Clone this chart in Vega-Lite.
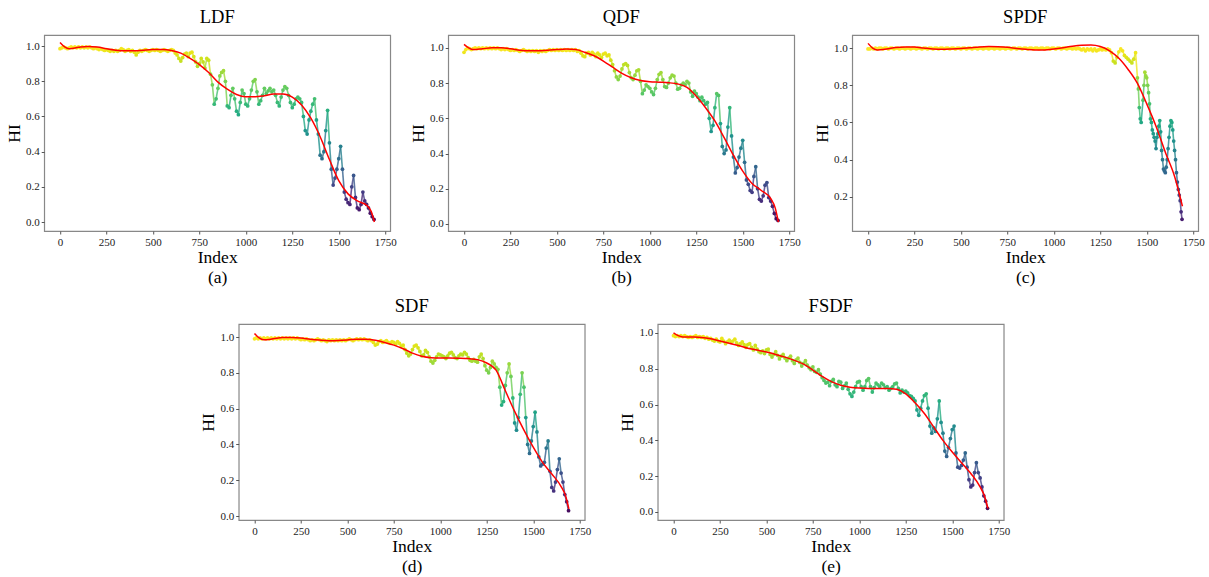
{
"$schema": "https://vega.github.io/schema/vega-lite/v6.json",
"padding": {"left": 4, "top": 6, "right": 2, "bottom": 0},
"config": {
 "font": "Liberation Serif",
 "view": {"stroke": "#888888", "strokeWidth": 1.2},
 "axis": {"labelFont": "Liberation Serif", "labelFontSize": 11, "labelColor": "#222222", "titleFont": "Liberation Serif", "titleFontSize": 17.5, "titleFontWeight": "normal", "titleColor": "#000000", "grid": false, "domain": false, "tickColor": "#555555", "tickSize": 3, "labelPadding": 2, "labelOverlap": false, "labelFlush": false},
 "axisY": {"titlePadding": 2},
 "axisX": {"titlePadding": 1, "titleLineHeight": 20},
 "title": {"font": "Liberation Serif", "fontSize": 18.5, "fontWeight": "normal", "offset": 9, "color": "#000000"}
},
"datasets": {
 "ldf": [{"i":0,"h":0.985},{"i":10,"h":0.99},{"i":20,"h":0.995},{"i":30,"h":0.99},{"i":40,"h":0.985},{"i":50,"h":0.99},{"i":60,"h":0.995},{"i":70,"h":0.99},{"i":80,"h":0.995},{"i":90,"h":0.99},{"i":100,"h":0.995},{"i":110,"h":0.99},{"i":120,"h":0.995},{"i":130,"h":0.99},{"i":140,"h":0.995},{"i":150,"h":0.99},{"i":160,"h":0.995},{"i":170,"h":0.99},{"i":180,"h":0.985},{"i":190,"h":0.99},{"i":200,"h":0.985},{"i":210,"h":0.98},{"i":220,"h":0.985},{"i":230,"h":0.98},{"i":240,"h":0.975},{"i":250,"h":0.98},{"i":260,"h":0.975},{"i":270,"h":0.97},{"i":280,"h":0.975},{"i":290,"h":0.97},{"i":300,"h":0.975},{"i":310,"h":0.97},{"i":320,"h":0.975},{"i":330,"h":0.985},{"i":340,"h":0.98},{"i":350,"h":0.97},{"i":360,"h":0.975},{"i":370,"h":0.98},{"i":380,"h":0.97},{"i":390,"h":0.975},{"i":400,"h":0.965},{"i":410,"h":0.95},{"i":420,"h":0.965},{"i":430,"h":0.975},{"i":440,"h":0.97},{"i":450,"h":0.975},{"i":460,"h":0.98},{"i":470,"h":0.975},{"i":480,"h":0.97},{"i":490,"h":0.975},{"i":500,"h":0.98},{"i":510,"h":0.975},{"i":520,"h":0.98},{"i":530,"h":0.975},{"i":540,"h":0.97},{"i":550,"h":0.975},{"i":560,"h":0.98},{"i":570,"h":0.975},{"i":580,"h":0.97},{"i":590,"h":0.975},{"i":600,"h":0.98},{"i":610,"h":0.975},{"i":620,"h":0.96},{"i":630,"h":0.95},{"i":640,"h":0.93},{"i":650,"h":0.915},{"i":660,"h":0.935},{"i":670,"h":0.955},{"i":680,"h":0.96},{"i":690,"h":0.94},{"i":700,"h":0.96},{"i":710,"h":0.965},{"i":720,"h":0.94},{"i":730,"h":0.91},{"i":740,"h":0.885},{"i":750,"h":0.9},{"i":760,"h":0.93},{"i":770,"h":0.91},{"i":780,"h":0.875},{"i":790,"h":0.93},{"i":800,"h":0.92},{"i":810,"h":0.84},{"i":820,"h":0.78},{"i":830,"h":0.67},{"i":840,"h":0.7},{"i":850,"h":0.76},{"i":860,"h":0.83},{"i":870,"h":0.85},{"i":880,"h":0.86},{"i":890,"h":0.8},{"i":900,"h":0.66},{"i":910,"h":0.65},{"i":920,"h":0.72},{"i":930,"h":0.76},{"i":940,"h":0.7},{"i":950,"h":0.63},{"i":960,"h":0.61},{"i":970,"h":0.68},{"i":980,"h":0.75},{"i":990,"h":0.73},{"i":1000,"h":0.67},{"i":1010,"h":0.66},{"i":1020,"h":0.7},{"i":1030,"h":0.75},{"i":1040,"h":0.8},{"i":1050,"h":0.81},{"i":1060,"h":0.74},{"i":1070,"h":0.67},{"i":1080,"h":0.69},{"i":1090,"h":0.72},{"i":1100,"h":0.76},{"i":1110,"h":0.73},{"i":1120,"h":0.745},{"i":1130,"h":0.76},{"i":1140,"h":0.74},{"i":1150,"h":0.75},{"i":1160,"h":0.72},{"i":1170,"h":0.68},{"i":1180,"h":0.66},{"i":1190,"h":0.71},{"i":1200,"h":0.75},{"i":1210,"h":0.77},{"i":1220,"h":0.76},{"i":1230,"h":0.72},{"i":1240,"h":0.68},{"i":1250,"h":0.65},{"i":1260,"h":0.67},{"i":1270,"h":0.7},{"i":1280,"h":0.71},{"i":1290,"h":0.7},{"i":1300,"h":0.68},{"i":1310,"h":0.6},{"i":1320,"h":0.52},{"i":1330,"h":0.5},{"i":1340,"h":0.58},{"i":1350,"h":0.63},{"i":1360,"h":0.67},{"i":1370,"h":0.7},{"i":1380,"h":0.58},{"i":1390,"h":0.5},{"i":1400,"h":0.38},{"i":1410,"h":0.36},{"i":1420,"h":0.4},{"i":1430,"h":0.52},{"i":1440,"h":0.635},{"i":1450,"h":0.45},{"i":1460,"h":0.3},{"i":1470,"h":0.21},{"i":1480,"h":0.25},{"i":1490,"h":0.3},{"i":1500,"h":0.36},{"i":1510,"h":0.43},{"i":1520,"h":0.3},{"i":1530,"h":0.17},{"i":1540,"h":0.13},{"i":1550,"h":0.11},{"i":1560,"h":0.1},{"i":1570,"h":0.2},{"i":1580,"h":0.265},{"i":1590,"h":0.14},{"i":1600,"h":0.08},{"i":1610,"h":0.07},{"i":1620,"h":0.1},{"i":1630,"h":0.17},{"i":1640,"h":0.12},{"i":1650,"h":0.1},{"i":1660,"h":0.08},{"i":1670,"h":0.05},{"i":1680,"h":0.03},{"i":1690,"h":0.015}],
 "ldfFit": [{"i":0,"h":1.02},{"i":25,"h":0.995},{"i":50,"h":0.985},{"i":100,"h":0.993},{"i":150,"h":0.998},{"i":200,"h":0.995},{"i":250,"h":0.985},{"i":300,"h":0.977},{"i":350,"h":0.973},{"i":400,"h":0.973},{"i":450,"h":0.977},{"i":500,"h":0.98},{"i":550,"h":0.98},{"i":600,"h":0.975},{"i":650,"h":0.96},{"i":700,"h":0.93},{"i":750,"h":0.895},{"i":800,"h":0.85},{"i":850,"h":0.795},{"i":900,"h":0.755},{"i":950,"h":0.725},{"i":1000,"h":0.712},{"i":1050,"h":0.712},{"i":1100,"h":0.718},{"i":1150,"h":0.727},{"i":1200,"h":0.728},{"i":1250,"h":0.71},{"i":1300,"h":0.665},{"i":1350,"h":0.59},{"i":1400,"h":0.485},{"i":1450,"h":0.355},{"i":1500,"h":0.235},{"i":1550,"h":0.16},{"i":1600,"h":0.12},{"i":1650,"h":0.095},{"i":1675,"h":0.06},{"i":1692,"h":0.0}],
 "qdf": [{"i":0,"h":0.975},{"i":10,"h":0.99},{"i":20,"h":1.0},{"i":30,"h":0.995},{"i":40,"h":0.99},{"i":50,"h":0.995},{"i":60,"h":1.0},{"i":70,"h":0.995},{"i":80,"h":1.0},{"i":90,"h":0.995},{"i":100,"h":1.0},{"i":110,"h":0.995},{"i":120,"h":1.0},{"i":130,"h":0.995},{"i":140,"h":1.0},{"i":150,"h":0.995},{"i":160,"h":1.0},{"i":170,"h":0.995},{"i":180,"h":1.0},{"i":190,"h":0.995},{"i":200,"h":0.99},{"i":210,"h":0.995},{"i":220,"h":0.99},{"i":230,"h":0.995},{"i":240,"h":0.99},{"i":250,"h":0.985},{"i":260,"h":0.99},{"i":270,"h":0.985},{"i":280,"h":0.99},{"i":290,"h":0.985},{"i":300,"h":0.98},{"i":310,"h":0.985},{"i":320,"h":0.99},{"i":330,"h":0.985},{"i":340,"h":0.98},{"i":350,"h":0.985},{"i":360,"h":0.98},{"i":370,"h":0.985},{"i":380,"h":0.98},{"i":390,"h":0.985},{"i":400,"h":0.975},{"i":410,"h":0.985},{"i":420,"h":0.98},{"i":430,"h":0.985},{"i":440,"h":0.98},{"i":450,"h":0.985},{"i":460,"h":0.99},{"i":470,"h":0.985},{"i":480,"h":0.99},{"i":490,"h":0.985},{"i":500,"h":0.99},{"i":510,"h":0.985},{"i":520,"h":0.99},{"i":530,"h":0.985},{"i":540,"h":0.99},{"i":550,"h":0.985},{"i":560,"h":0.99},{"i":570,"h":0.985},{"i":580,"h":0.99},{"i":590,"h":0.985},{"i":600,"h":0.99},{"i":610,"h":0.98},{"i":620,"h":0.985},{"i":630,"h":0.97},{"i":640,"h":0.955},{"i":650,"h":0.95},{"i":660,"h":0.97},{"i":670,"h":0.975},{"i":680,"h":0.96},{"i":690,"h":0.975},{"i":700,"h":0.965},{"i":710,"h":0.95},{"i":720,"h":0.97},{"i":730,"h":0.96},{"i":740,"h":0.945},{"i":750,"h":0.965},{"i":760,"h":0.97},{"i":770,"h":0.955},{"i":780,"h":0.96},{"i":790,"h":0.93},{"i":800,"h":0.905},{"i":810,"h":0.87},{"i":820,"h":0.835},{"i":830,"h":0.82},{"i":840,"h":0.84},{"i":850,"h":0.88},{"i":860,"h":0.905},{"i":870,"h":0.91},{"i":880,"h":0.9},{"i":890,"h":0.86},{"i":900,"h":0.83},{"i":910,"h":0.82},{"i":920,"h":0.845},{"i":930,"h":0.87},{"i":940,"h":0.875},{"i":950,"h":0.81},{"i":960,"h":0.74},{"i":970,"h":0.76},{"i":980,"h":0.79},{"i":990,"h":0.78},{"i":1000,"h":0.77},{"i":1010,"h":0.75},{"i":1020,"h":0.735},{"i":1030,"h":0.77},{"i":1040,"h":0.82},{"i":1050,"h":0.85},{"i":1060,"h":0.86},{"i":1070,"h":0.82},{"i":1080,"h":0.78},{"i":1090,"h":0.775},{"i":1100,"h":0.8},{"i":1110,"h":0.83},{"i":1120,"h":0.845},{"i":1130,"h":0.84},{"i":1140,"h":0.8},{"i":1150,"h":0.765},{"i":1160,"h":0.77},{"i":1170,"h":0.79},{"i":1180,"h":0.8},{"i":1190,"h":0.79},{"i":1200,"h":0.81},{"i":1210,"h":0.8},{"i":1220,"h":0.75},{"i":1230,"h":0.725},{"i":1240,"h":0.755},{"i":1250,"h":0.74},{"i":1260,"h":0.72},{"i":1270,"h":0.7},{"i":1280,"h":0.72},{"i":1290,"h":0.7},{"i":1300,"h":0.68},{"i":1310,"h":0.69},{"i":1320,"h":0.6},{"i":1330,"h":0.525},{"i":1340,"h":0.56},{"i":1350,"h":0.66},{"i":1360,"h":0.74},{"i":1370,"h":0.73},{"i":1380,"h":0.57},{"i":1390,"h":0.44},{"i":1400,"h":0.4},{"i":1410,"h":0.42},{"i":1420,"h":0.55},{"i":1430,"h":0.66},{"i":1440,"h":0.5},{"i":1450,"h":0.38},{"i":1460,"h":0.29},{"i":1470,"h":0.32},{"i":1480,"h":0.38},{"i":1490,"h":0.43},{"i":1500,"h":0.475},{"i":1510,"h":0.35},{"i":1520,"h":0.25},{"i":1530,"h":0.225},{"i":1540,"h":0.19},{"i":1550,"h":0.18},{"i":1560,"h":0.27},{"i":1570,"h":0.325},{"i":1580,"h":0.2},{"i":1590,"h":0.14},{"i":1600,"h":0.13},{"i":1610,"h":0.16},{"i":1620,"h":0.22},{"i":1630,"h":0.235},{"i":1640,"h":0.15},{"i":1650,"h":0.13},{"i":1660,"h":0.1},{"i":1670,"h":0.06},{"i":1680,"h":0.03},{"i":1690,"h":0.02}],
 "qdfFit": [{"i":0,"h":1.02},{"i":25,"h":1.0},{"i":50,"h":0.99},{"i":100,"h":0.995},{"i":150,"h":1.0},{"i":200,"h":1.0},{"i":250,"h":0.995},{"i":300,"h":0.987},{"i":350,"h":0.983},{"i":400,"h":0.983},{"i":450,"h":0.987},{"i":500,"h":0.99},{"i":550,"h":0.993},{"i":600,"h":0.99},{"i":650,"h":0.975},{"i":700,"h":0.955},{"i":750,"h":0.925},{"i":800,"h":0.89},{"i":850,"h":0.855},{"i":900,"h":0.83},{"i":950,"h":0.815},{"i":1000,"h":0.808},{"i":1050,"h":0.805},{"i":1100,"h":0.802},{"i":1150,"h":0.795},{"i":1200,"h":0.775},{"i":1250,"h":0.725},{"i":1300,"h":0.66},{"i":1350,"h":0.585},{"i":1400,"h":0.49},{"i":1450,"h":0.39},{"i":1500,"h":0.3},{"i":1550,"h":0.23},{"i":1600,"h":0.19},{"i":1650,"h":0.145},{"i":1675,"h":0.09},{"i":1692,"h":0.01}],
 "spdf": [{"i":0,"h":0.995},{"i":10,"h":0.995},{"i":20,"h":1.0},{"i":30,"h":0.995},{"i":40,"h":1.0},{"i":50,"h":0.995},{"i":60,"h":1.0},{"i":70,"h":1.0},{"i":80,"h":0.995},{"i":90,"h":1.0},{"i":100,"h":1.0},{"i":110,"h":0.995},{"i":120,"h":1.0},{"i":130,"h":1.0},{"i":140,"h":0.995},{"i":150,"h":1.0},{"i":160,"h":1.0},{"i":170,"h":0.995},{"i":180,"h":1.0},{"i":190,"h":1.0},{"i":200,"h":0.995},{"i":210,"h":1.0},{"i":220,"h":1.0},{"i":230,"h":0.995},{"i":240,"h":1.0},{"i":250,"h":1.0},{"i":260,"h":0.995},{"i":270,"h":1.0},{"i":280,"h":1.0},{"i":290,"h":0.995},{"i":300,"h":1.0},{"i":310,"h":1.0},{"i":320,"h":0.995},{"i":330,"h":1.0},{"i":340,"h":1.0},{"i":350,"h":0.995},{"i":360,"h":1.0},{"i":370,"h":1.0},{"i":380,"h":0.995},{"i":390,"h":1.0},{"i":400,"h":1.0},{"i":410,"h":0.995},{"i":420,"h":1.0},{"i":430,"h":1.0},{"i":440,"h":0.995},{"i":450,"h":1.0},{"i":460,"h":1.0},{"i":470,"h":0.995},{"i":480,"h":1.0},{"i":490,"h":1.0},{"i":500,"h":0.995},{"i":510,"h":1.0},{"i":520,"h":1.0},{"i":530,"h":0.995},{"i":540,"h":1.0},{"i":550,"h":1.0},{"i":560,"h":0.995},{"i":570,"h":1.0},{"i":580,"h":1.0},{"i":590,"h":0.995},{"i":600,"h":1.0},{"i":610,"h":1.0},{"i":620,"h":0.995},{"i":630,"h":1.0},{"i":640,"h":1.0},{"i":650,"h":0.995},{"i":660,"h":1.0},{"i":670,"h":1.0},{"i":680,"h":0.995},{"i":690,"h":1.0},{"i":700,"h":1.0},{"i":710,"h":0.995},{"i":720,"h":1.0},{"i":730,"h":1.0},{"i":740,"h":0.995},{"i":750,"h":1.0},{"i":760,"h":1.0},{"i":770,"h":0.995},{"i":780,"h":1.0},{"i":790,"h":1.0},{"i":800,"h":0.995},{"i":810,"h":1.0},{"i":820,"h":1.0},{"i":830,"h":0.995},{"i":840,"h":1.0},{"i":850,"h":1.0},{"i":860,"h":0.995},{"i":870,"h":1.0},{"i":880,"h":1.0},{"i":890,"h":0.995},{"i":900,"h":1.0},{"i":910,"h":1.0},{"i":920,"h":0.995},{"i":930,"h":1.0},{"i":940,"h":1.0},{"i":950,"h":0.995},{"i":960,"h":1.0},{"i":970,"h":1.0},{"i":980,"h":0.995},{"i":990,"h":1.0},{"i":1000,"h":1.0},{"i":1010,"h":0.995},{"i":1020,"h":1.0},{"i":1030,"h":1.0},{"i":1040,"h":0.995},{"i":1050,"h":1.0},{"i":1060,"h":1.0},{"i":1070,"h":0.995},{"i":1080,"h":1.0},{"i":1090,"h":1.0},{"i":1100,"h":0.995},{"i":1110,"h":1.0},{"i":1120,"h":0.995},{"i":1130,"h":1.0},{"i":1140,"h":0.995},{"i":1150,"h":0.99},{"i":1160,"h":0.995},{"i":1170,"h":0.985},{"i":1180,"h":0.995},{"i":1190,"h":0.99},{"i":1200,"h":0.995},{"i":1210,"h":0.985},{"i":1220,"h":0.995},{"i":1230,"h":0.985},{"i":1240,"h":0.99},{"i":1250,"h":0.995},{"i":1260,"h":0.99},{"i":1270,"h":0.995},{"i":1280,"h":0.99},{"i":1290,"h":0.995},{"i":1300,"h":0.99},{"i":1310,"h":0.975},{"i":1320,"h":0.93},{"i":1330,"h":0.92},{"i":1340,"h":0.95},{"i":1350,"h":0.98},{"i":1360,"h":0.995},{"i":1370,"h":0.985},{"i":1380,"h":0.96},{"i":1390,"h":0.95},{"i":1400,"h":0.94},{"i":1410,"h":0.93},{"i":1420,"h":0.92},{"i":1430,"h":0.94},{"i":1440,"h":0.975},{"i":1450,"h":0.84},{"i":1455,"h":0.78},{"i":1460,"h":0.68},{"i":1465,"h":0.62},{"i":1470,"h":0.6},{"i":1480,"h":0.72},{"i":1485,"h":0.8},{"i":1490,"h":0.87},{"i":1495,"h":0.85},{"i":1500,"h":0.84},{"i":1505,"h":0.8},{"i":1510,"h":0.76},{"i":1515,"h":0.7},{"i":1520,"h":0.62},{"i":1525,"h":0.6},{"i":1530,"h":0.56},{"i":1535,"h":0.54},{"i":1540,"h":0.52},{"i":1545,"h":0.5},{"i":1550,"h":0.46},{"i":1555,"h":0.52},{"i":1560,"h":0.54},{"i":1565,"h":0.58},{"i":1570,"h":0.61},{"i":1575,"h":0.55},{"i":1580,"h":0.45},{"i":1585,"h":0.4},{"i":1590,"h":0.35},{"i":1595,"h":0.34},{"i":1600,"h":0.33},{"i":1605,"h":0.36},{"i":1610,"h":0.4},{"i":1615,"h":0.46},{"i":1620,"h":0.52},{"i":1625,"h":0.58},{"i":1630,"h":0.61},{"i":1635,"h":0.6},{"i":1640,"h":0.56},{"i":1645,"h":0.5},{"i":1650,"h":0.45},{"i":1655,"h":0.4},{"i":1660,"h":0.33},{"i":1665,"h":0.28},{"i":1670,"h":0.24},{"i":1675,"h":0.21},{"i":1680,"h":0.18},{"i":1685,"h":0.12},{"i":1690,"h":0.08}],
 "spdfFit": [{"i":0,"h":1.025},{"i":25,"h":1.0},{"i":50,"h":0.99},{"i":100,"h":0.995},{"i":150,"h":1.003},{"i":200,"h":1.006},{"i":250,"h":1.005},{"i":300,"h":1.0},{"i":350,"h":0.995},{"i":400,"h":0.993},{"i":450,"h":0.995},{"i":500,"h":0.998},{"i":550,"h":1.002},{"i":600,"h":1.006},{"i":650,"h":1.008},{"i":700,"h":1.007},{"i":750,"h":1.004},{"i":800,"h":0.998},{"i":850,"h":0.993},{"i":900,"h":0.99},{"i":950,"h":0.99},{"i":1000,"h":0.995},{"i":1050,"h":1.002},{"i":1100,"h":1.01},{"i":1150,"h":1.015},{"i":1200,"h":1.016},{"i":1250,"h":1.008},{"i":1300,"h":0.985},{"i":1350,"h":0.945},{"i":1400,"h":0.885},{"i":1450,"h":0.81},{"i":1500,"h":0.7},{"i":1550,"h":0.58},{"i":1600,"h":0.44},{"i":1650,"h":0.31},{"i":1692,"h":0.15}],
 "sdf": [{"i":0,"h":0.99},{"i":10,"h":0.995},{"i":20,"h":0.99},{"i":30,"h":0.995},{"i":40,"h":0.99},{"i":50,"h":0.995},{"i":60,"h":0.99},{"i":70,"h":0.995},{"i":80,"h":0.99},{"i":90,"h":0.995},{"i":100,"h":0.99},{"i":110,"h":0.995},{"i":120,"h":0.99},{"i":130,"h":0.995},{"i":140,"h":0.99},{"i":150,"h":0.995},{"i":160,"h":0.99},{"i":170,"h":0.995},{"i":180,"h":0.99},{"i":190,"h":0.995},{"i":200,"h":0.99},{"i":210,"h":0.995},{"i":220,"h":0.99},{"i":230,"h":0.995},{"i":240,"h":0.99},{"i":250,"h":0.985},{"i":260,"h":0.99},{"i":270,"h":0.985},{"i":280,"h":0.99},{"i":290,"h":0.985},{"i":300,"h":0.98},{"i":310,"h":0.985},{"i":320,"h":0.98},{"i":330,"h":0.985},{"i":340,"h":0.99},{"i":350,"h":0.985},{"i":360,"h":0.98},{"i":370,"h":0.985},{"i":380,"h":0.98},{"i":390,"h":0.975},{"i":400,"h":0.985},{"i":410,"h":0.98},{"i":420,"h":0.985},{"i":430,"h":0.98},{"i":440,"h":0.985},{"i":450,"h":0.98},{"i":460,"h":0.985},{"i":470,"h":0.98},{"i":480,"h":0.985},{"i":490,"h":0.98},{"i":500,"h":0.985},{"i":510,"h":0.99},{"i":520,"h":0.985},{"i":530,"h":0.98},{"i":540,"h":0.985},{"i":550,"h":0.99},{"i":560,"h":0.985},{"i":570,"h":0.99},{"i":580,"h":0.985},{"i":590,"h":0.99},{"i":600,"h":0.985},{"i":610,"h":0.98},{"i":620,"h":0.985},{"i":630,"h":0.98},{"i":640,"h":0.97},{"i":650,"h":0.955},{"i":660,"h":0.96},{"i":670,"h":0.975},{"i":680,"h":0.98},{"i":690,"h":0.97},{"i":700,"h":0.975},{"i":710,"h":0.98},{"i":720,"h":0.97},{"i":730,"h":0.965},{"i":740,"h":0.975},{"i":750,"h":0.97},{"i":760,"h":0.96},{"i":770,"h":0.975},{"i":780,"h":0.965},{"i":790,"h":0.95},{"i":800,"h":0.955},{"i":810,"h":0.93},{"i":820,"h":0.91},{"i":830,"h":0.895},{"i":840,"h":0.905},{"i":850,"h":0.93},{"i":860,"h":0.95},{"i":870,"h":0.955},{"i":880,"h":0.94},{"i":890,"h":0.92},{"i":900,"h":0.895},{"i":910,"h":0.9},{"i":920,"h":0.925},{"i":930,"h":0.915},{"i":940,"h":0.89},{"i":950,"h":0.865},{"i":960,"h":0.855},{"i":970,"h":0.87},{"i":980,"h":0.89},{"i":990,"h":0.905},{"i":1000,"h":0.9},{"i":1010,"h":0.895},{"i":1020,"h":0.89},{"i":1030,"h":0.88},{"i":1040,"h":0.895},{"i":1050,"h":0.91},{"i":1060,"h":0.915},{"i":1070,"h":0.9},{"i":1080,"h":0.885},{"i":1090,"h":0.88},{"i":1100,"h":0.895},{"i":1110,"h":0.905},{"i":1120,"h":0.9},{"i":1130,"h":0.915},{"i":1140,"h":0.905},{"i":1150,"h":0.885},{"i":1160,"h":0.87},{"i":1170,"h":0.865},{"i":1180,"h":0.875},{"i":1190,"h":0.865},{"i":1200,"h":0.86},{"i":1210,"h":0.89},{"i":1220,"h":0.905},{"i":1230,"h":0.88},{"i":1240,"h":0.84},{"i":1250,"h":0.815},{"i":1260,"h":0.8},{"i":1270,"h":0.83},{"i":1280,"h":0.865},{"i":1290,"h":0.85},{"i":1300,"h":0.83},{"i":1310,"h":0.82},{"i":1320,"h":0.72},{"i":1330,"h":0.62},{"i":1340,"h":0.64},{"i":1350,"h":0.73},{"i":1360,"h":0.8},{"i":1370,"h":0.85},{"i":1380,"h":0.78},{"i":1390,"h":0.66},{"i":1400,"h":0.52},{"i":1410,"h":0.48},{"i":1420,"h":0.55},{"i":1430,"h":0.68},{"i":1440,"h":0.8},{"i":1450,"h":0.72},{"i":1460,"h":0.55},{"i":1470,"h":0.4},{"i":1480,"h":0.35},{"i":1490,"h":0.42},{"i":1500,"h":0.5},{"i":1510,"h":0.58},{"i":1520,"h":0.47},{"i":1530,"h":0.33},{"i":1540,"h":0.28},{"i":1550,"h":0.29},{"i":1560,"h":0.3},{"i":1570,"h":0.38},{"i":1580,"h":0.42},{"i":1590,"h":0.25},{"i":1600,"h":0.16},{"i":1610,"h":0.14},{"i":1620,"h":0.19},{"i":1630,"h":0.26},{"i":1640,"h":0.32},{"i":1650,"h":0.24},{"i":1660,"h":0.19},{"i":1670,"h":0.12},{"i":1680,"h":0.08},{"i":1690,"h":0.03}],
 "sdfFit": [{"i":0,"h":1.02},{"i":25,"h":0.995},{"i":50,"h":0.985},{"i":100,"h":0.99},{"i":150,"h":0.997},{"i":200,"h":0.998},{"i":250,"h":0.995},{"i":300,"h":0.988},{"i":350,"h":0.983},{"i":400,"h":0.98},{"i":450,"h":0.981},{"i":500,"h":0.984},{"i":550,"h":0.988},{"i":600,"h":0.988},{"i":650,"h":0.982},{"i":700,"h":0.97},{"i":750,"h":0.955},{"i":800,"h":0.935},{"i":850,"h":0.91},{"i":900,"h":0.893},{"i":950,"h":0.885},{"i":1000,"h":0.883},{"i":1050,"h":0.883},{"i":1100,"h":0.882},{"i":1150,"h":0.88},{"i":1200,"h":0.874},{"i":1250,"h":0.855},{"i":1300,"h":0.815},{"i":1350,"h":0.7},{"i":1400,"h":0.585},{"i":1450,"h":0.48},{"i":1500,"h":0.385},{"i":1550,"h":0.3},{"i":1600,"h":0.235},{"i":1650,"h":0.165},{"i":1675,"h":0.11},{"i":1692,"h":0.04}],
 "fsdf": [{"i":0,"h":0.985},{"i":10,"h":0.98},{"i":20,"h":0.985},{"i":30,"h":0.98},{"i":40,"h":0.985},{"i":50,"h":0.98},{"i":60,"h":0.985},{"i":70,"h":0.98},{"i":80,"h":0.975},{"i":90,"h":0.98},{"i":100,"h":0.975},{"i":110,"h":0.98},{"i":120,"h":0.985},{"i":130,"h":0.975},{"i":140,"h":0.98},{"i":150,"h":0.975},{"i":160,"h":0.98},{"i":170,"h":0.97},{"i":180,"h":0.975},{"i":190,"h":0.965},{"i":200,"h":0.97},{"i":210,"h":0.96},{"i":220,"h":0.955},{"i":230,"h":0.965},{"i":240,"h":0.955},{"i":250,"h":0.95},{"i":260,"h":0.97},{"i":270,"h":0.955},{"i":280,"h":0.94},{"i":290,"h":0.95},{"i":300,"h":0.96},{"i":310,"h":0.95},{"i":320,"h":0.955},{"i":330,"h":0.965},{"i":340,"h":0.945},{"i":350,"h":0.93},{"i":360,"h":0.94},{"i":370,"h":0.95},{"i":380,"h":0.935},{"i":390,"h":0.92},{"i":400,"h":0.935},{"i":410,"h":0.94},{"i":420,"h":0.92},{"i":430,"h":0.905},{"i":440,"h":0.93},{"i":450,"h":0.91},{"i":460,"h":0.895},{"i":470,"h":0.89},{"i":480,"h":0.9},{"i":490,"h":0.885},{"i":500,"h":0.905},{"i":510,"h":0.91},{"i":520,"h":0.88},{"i":530,"h":0.865},{"i":540,"h":0.88},{"i":550,"h":0.895},{"i":560,"h":0.875},{"i":570,"h":0.855},{"i":580,"h":0.87},{"i":590,"h":0.88},{"i":600,"h":0.86},{"i":610,"h":0.845},{"i":620,"h":0.86},{"i":630,"h":0.87},{"i":640,"h":0.845},{"i":650,"h":0.83},{"i":660,"h":0.85},{"i":670,"h":0.86},{"i":680,"h":0.835},{"i":690,"h":0.815},{"i":700,"h":0.83},{"i":710,"h":0.845},{"i":720,"h":0.82},{"i":730,"h":0.805},{"i":740,"h":0.795},{"i":750,"h":0.81},{"i":760,"h":0.785},{"i":770,"h":0.78},{"i":780,"h":0.795},{"i":790,"h":0.77},{"i":800,"h":0.75},{"i":810,"h":0.735},{"i":820,"h":0.72},{"i":830,"h":0.725},{"i":840,"h":0.705},{"i":850,"h":0.73},{"i":860,"h":0.74},{"i":870,"h":0.71},{"i":880,"h":0.7},{"i":890,"h":0.73},{"i":900,"h":0.725},{"i":910,"h":0.69},{"i":920,"h":0.705},{"i":930,"h":0.72},{"i":940,"h":0.685},{"i":950,"h":0.66},{"i":960,"h":0.645},{"i":970,"h":0.67},{"i":980,"h":0.7},{"i":990,"h":0.725},{"i":1000,"h":0.73},{"i":1010,"h":0.7},{"i":1020,"h":0.68},{"i":1030,"h":0.7},{"i":1040,"h":0.735},{"i":1050,"h":0.745},{"i":1060,"h":0.7},{"i":1070,"h":0.67},{"i":1080,"h":0.695},{"i":1090,"h":0.72},{"i":1100,"h":0.71},{"i":1110,"h":0.7},{"i":1120,"h":0.72},{"i":1130,"h":0.71},{"i":1140,"h":0.695},{"i":1150,"h":0.7},{"i":1160,"h":0.68},{"i":1170,"h":0.69},{"i":1180,"h":0.7},{"i":1190,"h":0.715},{"i":1200,"h":0.72},{"i":1210,"h":0.69},{"i":1220,"h":0.665},{"i":1230,"h":0.68},{"i":1240,"h":0.67},{"i":1250,"h":0.675},{"i":1260,"h":0.665},{"i":1270,"h":0.65},{"i":1280,"h":0.645},{"i":1290,"h":0.635},{"i":1300,"h":0.62},{"i":1310,"h":0.57},{"i":1320,"h":0.54},{"i":1330,"h":0.58},{"i":1340,"h":0.62},{"i":1350,"h":0.65},{"i":1360,"h":0.66},{"i":1370,"h":0.58},{"i":1380,"h":0.48},{"i":1390,"h":0.44},{"i":1400,"h":0.47},{"i":1410,"h":0.45},{"i":1420,"h":0.52},{"i":1430,"h":0.62},{"i":1440,"h":0.5},{"i":1450,"h":0.44},{"i":1460,"h":0.34},{"i":1470,"h":0.31},{"i":1480,"h":0.36},{"i":1490,"h":0.41},{"i":1500,"h":0.46},{"i":1510,"h":0.48},{"i":1520,"h":0.33},{"i":1530,"h":0.25},{"i":1540,"h":0.245},{"i":1550,"h":0.26},{"i":1560,"h":0.29},{"i":1570,"h":0.33},{"i":1580,"h":0.25},{"i":1590,"h":0.18},{"i":1600,"h":0.14},{"i":1610,"h":0.15},{"i":1620,"h":0.22},{"i":1630,"h":0.275},{"i":1640,"h":0.22},{"i":1650,"h":0.19},{"i":1660,"h":0.14},{"i":1670,"h":0.09},{"i":1680,"h":0.06},{"i":1690,"h":0.02}],
 "fsdfFit": [{"i":0,"h":1.0},{"i":25,"h":0.985},{"i":50,"h":0.978},{"i":100,"h":0.977},{"i":150,"h":0.975},{"i":200,"h":0.968},{"i":250,"h":0.955},{"i":300,"h":0.942},{"i":350,"h":0.93},{"i":400,"h":0.915},{"i":450,"h":0.905},{"i":500,"h":0.893},{"i":550,"h":0.88},{"i":600,"h":0.865},{"i":650,"h":0.847},{"i":700,"h":0.826},{"i":750,"h":0.793},{"i":800,"h":0.757},{"i":850,"h":0.728},{"i":900,"h":0.708},{"i":950,"h":0.697},{"i":1000,"h":0.692},{"i":1050,"h":0.69},{"i":1100,"h":0.69},{"i":1150,"h":0.69},{"i":1200,"h":0.685},{"i":1250,"h":0.66},{"i":1300,"h":0.61},{"i":1350,"h":0.55},{"i":1400,"h":0.475},{"i":1450,"h":0.4},{"i":1500,"h":0.335},{"i":1550,"h":0.275},{"i":1600,"h":0.215},{"i":1650,"h":0.14},{"i":1675,"h":0.085},{"i":1692,"h":0.02}]
},
"center": true,
"spacing": 8,
"vconcat": [
 {"hconcat": [
  {"title": "LDF", "width": 346, "height": 196, "layer": [
   {"data": {"name": "ldf"}, "transform": [{"window": [{"op": "lead", "field": "i", "as": "ni"}, {"op": "lead", "field": "h", "as": "nh"}], "sort": [{"field": "i"}]}, {"filter": "datum.ni != null"}],
    "mark": {"type": "rule", "strokeWidth": 1.6, "opacity": 0.8},
    "encoding": {"x": {"field": "i", "type": "quantitative", "scale": {"domain": [-85, 1777], "nice": false, "zero": false}, "axis": {"values": [0,250,500,750,1000,1250,1500,1750], "tickCount": 20, "format": "d", "title": ["Index", "(a)"]}},
     "y": {"field": "h", "type": "quantitative", "scale": {"domain": [-0.051, 1.063], "nice": false, "zero": false}, "axis": {"values": [0,0.2,0.4,0.6,0.8,1], "tickCount": 20, "format": ".1f", "title": "HI"}},
     "x2": {"field": "ni"}, "y2": {"field": "nh"},
     "color": {"field": "h", "type": "quantitative", "scale": {"scheme": "viridis", "domain": [0, 1]}, "legend": null}}},
   {"data": {"name": "ldf"}, "mark": {"type": "circle", "size": 14, "opacity": 1},
    "encoding": {"x": {"field": "i", "type": "quantitative"}, "y": {"field": "h", "type": "quantitative"},
     "color": {"field": "h", "type": "quantitative", "legend": null}}},
   {"data": {"name": "ldfFit"}, "mark": {"type": "line", "color": "#ff0000", "strokeWidth": 1.5, "interpolate": "monotone"},
    "encoding": {"x": {"field": "i", "type": "quantitative"}, "y": {"field": "h", "type": "quantitative"}}}
  ]},
  {"title": "QDF", "width": 346, "height": 196, "layer": [
   {"data": {"name": "qdf"}, "transform": [{"window": [{"op": "lead", "field": "i", "as": "ni"}, {"op": "lead", "field": "h", "as": "nh"}], "sort": [{"field": "i"}]}, {"filter": "datum.ni != null"}],
    "mark": {"type": "rule", "strokeWidth": 1.6, "opacity": 0.8},
    "encoding": {"x": {"field": "i", "type": "quantitative", "scale": {"domain": [-85, 1777], "nice": false, "zero": false}, "axis": {"values": [0,250,500,750,1000,1250,1500,1750], "tickCount": 20, "format": "d", "title": ["Index", "(b)"]}},
     "y": {"field": "h", "type": "quantitative", "scale": {"domain": [-0.04, 1.073], "nice": false, "zero": false}, "axis": {"values": [0,0.2,0.4,0.6,0.8,1], "tickCount": 20, "format": ".1f", "title": "HI"}},
     "x2": {"field": "ni"}, "y2": {"field": "nh"},
     "color": {"field": "h", "type": "quantitative", "scale": {"scheme": "viridis", "domain": [0, 1]}, "legend": null}}},
   {"data": {"name": "qdf"}, "mark": {"type": "circle", "size": 14, "opacity": 1},
    "encoding": {"x": {"field": "i", "type": "quantitative"}, "y": {"field": "h", "type": "quantitative"},
     "color": {"field": "h", "type": "quantitative", "legend": null}}},
   {"data": {"name": "qdfFit"}, "mark": {"type": "line", "color": "#ff0000", "strokeWidth": 1.5, "interpolate": "monotone"},
    "encoding": {"x": {"field": "i", "type": "quantitative"}, "y": {"field": "h", "type": "quantitative"}}}
  ]},
  {"title": "SPDF", "width": 346, "height": 196, "layer": [
   {"data": {"name": "spdf"}, "transform": [{"window": [{"op": "lead", "field": "i", "as": "ni"}, {"op": "lead", "field": "h", "as": "nh"}], "sort": [{"field": "i"}]}, {"filter": "datum.ni != null"}],
    "mark": {"type": "rule", "strokeWidth": 1.6, "opacity": 0.8},
    "encoding": {"x": {"field": "i", "type": "quantitative", "scale": {"domain": [-85, 1777], "nice": false, "zero": false}, "axis": {"values": [0,250,500,750,1000,1250,1500,1750], "tickCount": 20, "format": "d", "title": ["Index", "(c)"]}},
     "y": {"field": "h", "type": "quantitative", "scale": {"domain": [0.017, 1.07], "nice": false, "zero": false}, "axis": {"values": [0.2,0.4,0.6,0.8,1], "tickCount": 20, "format": ".1f", "title": "HI"}},
     "x2": {"field": "ni"}, "y2": {"field": "nh"},
     "color": {"field": "h", "type": "quantitative", "scale": {"scheme": "viridis", "domain": [0, 1]}, "legend": null}}},
   {"data": {"name": "spdf"}, "mark": {"type": "circle", "size": 14, "opacity": 1},
    "encoding": {"x": {"field": "i", "type": "quantitative"}, "y": {"field": "h", "type": "quantitative"},
     "color": {"field": "h", "type": "quantitative", "legend": null}}},
   {"data": {"name": "spdfFit"}, "mark": {"type": "line", "color": "#ff0000", "strokeWidth": 1.5, "interpolate": "monotone"},
    "encoding": {"x": {"field": "i", "type": "quantitative"}, "y": {"field": "h", "type": "quantitative"}}}
  ]}
 ], "spacing": 58, "bounds": "flush", "resolve": {"scale": {"x": "independent", "y": "independent"}}},
 {"hconcat": [
  {"title": "SDF", "width": 346, "height": 196, "layer": [
   {"data": {"name": "sdf"}, "transform": [{"window": [{"op": "lead", "field": "i", "as": "ni"}, {"op": "lead", "field": "h", "as": "nh"}], "sort": [{"field": "i"}]}, {"filter": "datum.ni != null"}],
    "mark": {"type": "rule", "strokeWidth": 1.6, "opacity": 0.8},
    "encoding": {"x": {"field": "i", "type": "quantitative", "scale": {"domain": [-85, 1777], "nice": false, "zero": false}, "axis": {"values": [0,250,500,750,1000,1250,1500,1750], "tickCount": 20, "format": "d", "title": ["Index", "(d)"]}},
     "y": {"field": "h", "type": "quantitative", "scale": {"domain": [-0.022, 1.073], "nice": false, "zero": false}, "axis": {"values": [0,0.2,0.4,0.6,0.8,1], "tickCount": 20, "format": ".1f", "title": "HI"}},
     "x2": {"field": "ni"}, "y2": {"field": "nh"},
     "color": {"field": "h", "type": "quantitative", "scale": {"scheme": "viridis", "domain": [0, 1]}, "legend": null}}},
   {"data": {"name": "sdf"}, "mark": {"type": "circle", "size": 14, "opacity": 1},
    "encoding": {"x": {"field": "i", "type": "quantitative"}, "y": {"field": "h", "type": "quantitative"},
     "color": {"field": "h", "type": "quantitative", "legend": null}}},
   {"data": {"name": "sdfFit"}, "mark": {"type": "line", "color": "#ff0000", "strokeWidth": 1.5, "interpolate": "monotone"},
    "encoding": {"x": {"field": "i", "type": "quantitative"}, "y": {"field": "h", "type": "quantitative"}}}
  ]},
  {"title": "FSDF", "width": 346, "height": 196, "layer": [
   {"data": {"name": "fsdf"}, "transform": [{"window": [{"op": "lead", "field": "i", "as": "ni"}, {"op": "lead", "field": "h", "as": "nh"}], "sort": [{"field": "i"}]}, {"filter": "datum.ni != null"}],
    "mark": {"type": "rule", "strokeWidth": 1.6, "opacity": 0.8},
    "encoding": {"x": {"field": "i", "type": "quantitative", "scale": {"domain": [-85, 1777], "nice": false, "zero": false}, "axis": {"values": [0,250,500,750,1000,1250,1500,1750], "tickCount": 20, "format": "d", "title": ["Index", "(e)"]}},
     "y": {"field": "h", "type": "quantitative", "scale": {"domain": [-0.045, 1.05], "nice": false, "zero": false}, "axis": {"values": [0,0.2,0.4,0.6,0.8,1], "tickCount": 20, "format": ".1f", "title": "HI"}},
     "x2": {"field": "ni"}, "y2": {"field": "nh"},
     "color": {"field": "h", "type": "quantitative", "scale": {"scheme": "viridis", "domain": [0, 1]}, "legend": null}}},
   {"data": {"name": "fsdf"}, "mark": {"type": "circle", "size": 14, "opacity": 1},
    "encoding": {"x": {"field": "i", "type": "quantitative"}, "y": {"field": "h", "type": "quantitative"},
     "color": {"field": "h", "type": "quantitative", "legend": null}}},
   {"data": {"name": "fsdfFit"}, "mark": {"type": "line", "color": "#ff0000", "strokeWidth": 1.5, "interpolate": "monotone"},
    "encoding": {"x": {"field": "i", "type": "quantitative"}, "y": {"field": "h", "type": "quantitative"}}}
  ]}
 ], "spacing": 73, "bounds": "flush", "resolve": {"scale": {"x": "independent", "y": "independent"}}}
],
"resolve": {"scale": {"x": "independent", "y": "independent"}}
}
